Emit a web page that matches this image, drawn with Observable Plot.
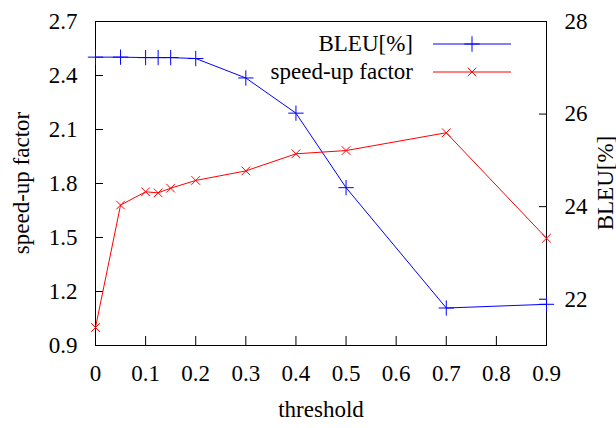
<!DOCTYPE html>
<html>
<head>
<meta charset="utf-8">
<script src="https://cdn.jsdelivr.net/npm/d3@7"></script>
<script src="https://cdn.jsdelivr.net/npm/@observablehq/plot@0.6"></script>
<style>
  html, body { margin: 0; padding: 0; background: #fff; }
  #chart svg, #chart svg text, #chart svg g { font-family: "Liberation Serif", serif !important; }
</style>
</head>
<body>
<div id="chart"></div>
<script>
// ---- data ----
const thresholds = [0, 0.05, 0.1, 0.125, 0.15, 0.2, 0.3, 0.4, 0.5, 0.7, 0.9];
const bleu       = [27.23, 27.23, 27.22, 27.22, 27.22, 27.20, 26.78, 26.02, 24.41, 21.81, 21.89];
const speedup    = [1.00, 1.68, 1.754, 1.748, 1.774, 1.817, 1.87, 1.965, 1.983, 2.082, 1.496];

const xTicks     = [0, 0.1, 0.2, 0.3, 0.4, 0.5, 0.6, 0.7, 0.8, 0.9];
const speedTicks = [0.9, 1.2, 1.5, 1.8, 2.1, 2.4, 2.7];
const bleuTicks  = [22, 24, 26, 28];
const seriesNames = ["BLEU[%]", "speed-up factor"];
const seriesColors = ["#0000ff", "#ff0000"];
const axisTitles = {x: "threshold", yLeft: "speed-up factor", yRight: "BLEU[%]"};

const speedDomain = [0.9, 2.7];
const bleuDomain  = [21, 28];

// map BLEU onto the left (speed-up) scale
const toSpeed = b => speedDomain[0] + (b - bleuDomain[0]) * (speedDomain[1] - speedDomain[0]) / (bleuDomain[1] - bleuDomain[0]);
const fromSpeed = s => bleuDomain[0] + (s - speedDomain[0]) * (bleuDomain[1] - bleuDomain[0]) / (speedDomain[1] - speedDomain[0]);

const bleuData  = thresholds.map((t, i) => ({x: t, y: toSpeed(bleu[i])}));
const speedData = thresholds.map((t, i) => ({x: t, y: speedup[i]}));

const W = 616, H = 428;
const mL = 95, mR = 70, mT = 21, mB = 83;
const fw = W - mL - mR, fh = H - mT - mB;
const FS = 23;
const FF = "Liberation Serif";

function legend() {
  const g = d3.create("svg:g");
  const right = W - mR;
  const rows = [
    {name: seriesNames[0], color: seriesColors[0], sym: d3.symbolPlus, size: 80},
    {name: seriesNames[1], color: seriesColors[1], sym: d3.symbolTimes, size: 50}
  ];
  rows.forEach((r, i) => {
    const y = mT + 23 + i * 28;
    g.append("text").attr("x", right - 133).attr("y", y).attr("dy", "0.32em")
      .attr("text-anchor", "end").attr("font-size", FS).attr("font-family", FF).attr("fill", "black").text(r.name);
    g.append("line").attr("x1", right - 113).attr("x2", right - 35).attr("y1", y).attr("y2", y)
      .attr("stroke", r.color).attr("stroke-width", 1);
    g.append("path").attr("transform", `translate(${right - 74},${y})`)
      .attr("d", d3.symbol(r.sym, r.size)()).attr("fill", "none").attr("stroke", r.color).attr("stroke-width", 1);
  });
  return g.node();
}

function yTitles() {
  const g = d3.create("svg:g");
  const cy = mT + fh / 2;
  [[axisTitles.yLeft, mL - 73], [axisTitles.yRight, W - mR + 60]].forEach(([t, x]) => {
    g.append("text").attr("transform", `translate(${x},${cy}) rotate(-90)`).attr("dy", "0.32em")
      .attr("text-anchor", "middle").attr("font-size", FS).attr("font-family", FF).attr("fill", "black").text(t);
  });
  return g.node();
}

const chart = Plot.plot({
  width: W, height: H,
  marginLeft: mL, marginRight: mR, marginTop: mT, marginBottom: mB,
  style: {fontFamily: FF, fontSize: FS + "px", color: "black", background: "white"},
  x: {domain: [0, 0.9]},
  y: {domain: speedDomain},
  marks: [
    Plot.frame({stroke: "black", strokeWidth: 1}),
    // tick labels
    Plot.axisX(xTicks, {tickSize: 0, tickPadding: 19, tickFormat: d => String(d), label: null, fontSize: FS, fontFamily: FF}),
    Plot.axisY(speedTicks, {anchor: "left", tickSize: 0, tickPadding: 18, tickFormat: d3.format(".1f"), label: null, fontSize: FS, fontFamily: FF}),
    Plot.axisY(bleuTicks.map(toSpeed), {anchor: "right", tickSize: 0, tickPadding: 18, tickFormat: d => String(Math.round(fromSpeed(d))), label: null, fontSize: FS, fontFamily: FF}),
    // inward ticks
    Plot.tickX(xTicks, {x: d => d, insetTop: fh - 9, stroke: "black"}),
    Plot.tickY(speedTicks, {y: d => d, insetRight: fw - 8, stroke: "black"}),
    Plot.tickY(bleuTicks.map(toSpeed), {y: d => d, insetLeft: fw - 7, stroke: "black"}),
    // series
    Plot.line(bleuData, {x: "x", y: "y", stroke: seriesColors[0], strokeWidth: 1}),
    Plot.dot(bleuData, {x: "x", y: "y", symbol: "plus", r: 5, stroke: seriesColors[0], strokeWidth: 1}),
    Plot.line(speedData, {x: "x", y: "y", stroke: seriesColors[1], strokeWidth: 1}),
    Plot.dot(speedData, {x: "x", y: "y", symbol: "times", r: 4, stroke: seriesColors[1], strokeWidth: 1}),
    // axis titles
    Plot.text([axisTitles.x], {frameAnchor: "bottom", dy: 71, text: d => d, fontSize: FS, fontFamily: FF, fill: "black"}),
    yTitles,
    legend
  ]
});
document.getElementById("chart").appendChild(chart);
</script>
</body>
</html>
